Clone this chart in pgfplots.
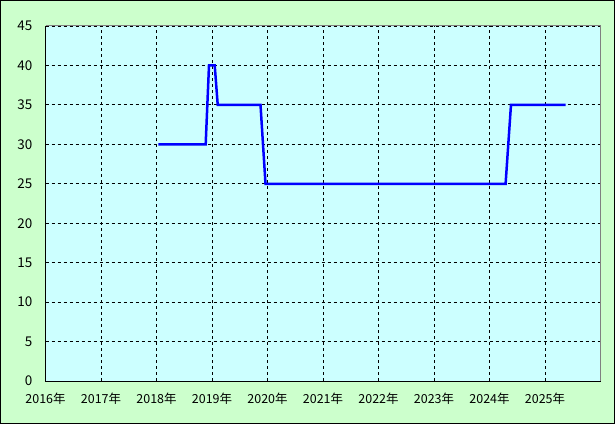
\documentclass[border=0pt]{standalone}
\usepackage{pgfplots}
\pgfplotsset{compat=1.18}
\usepackage{fontspec}
\setmainfont{Noto Sans CJK JP}
\definecolor{bggreen}{HTML}{CCFFCC}
\definecolor{plotcyan}{HTML}{CCFFFF}
\definecolor{bordergray}{HTML}{808080}
\begin{document}
\begin{tikzpicture}
\fill[bggreen] (0,0) rectangle (615bp,424bp);
\draw[black, line width=1bp] (0.5bp,0.5bp) rectangle (614.5bp,423.5bp);
\begin{axis}[
  at={(45.5bp,43bp)}, anchor=south west,
  width=555bp, height=355bp, scale only axis,
  xmin=2016, xmax=2026, ymin=0, ymax=45,
  xtick={2016,2017,2018,2019,2020,2021,2022,2023,2024,2025},
  xticklabels={2016年,2017年,2018年,2019年,2020年,2021年,2022年,2023年,2024年,2025年},
  ytick={0,5,10,15,20,25,30,35,40,45},
  grid=major,
  major grid style={black, line width=0.8bp, dash pattern=on 3bp off 3bp},
  axis line style={draw=none},
  major tick length=0pt,
  axis background/.style={fill=plotcyan},
  /pgf/number format/assume math mode=true,
  yticklabel style={font=\fontsize{13.5}{15}\selectfont, anchor=east, inner sep=0pt, xshift=-13bp},
  xticklabel style={font=\fontsize{12.5}{14}\selectfont, anchor=center, inner sep=0pt, yshift=-18bp},
  clip=false,
]
\addplot[color=blue, line width=2.5bp, line join=miter] coordinates {
  (2018.032,30) (2018.886,30) (2018.946,40) (2019.049,40) (2019.103,35)
  (2019.874,35) (2019.964,25) (2024.29,25) (2024.387,35) (2025.373,35)
};
\draw[bordergray, line width=1bp] (rel axis cs:0,1) -- (rel axis cs:1,1) -- (rel axis cs:1,0);
\draw[black, line width=1bp] (rel axis cs:0,1) -- (rel axis cs:0,0) -- (rel axis cs:1,0);
\end{axis}
\end{tikzpicture}
\end{document}
